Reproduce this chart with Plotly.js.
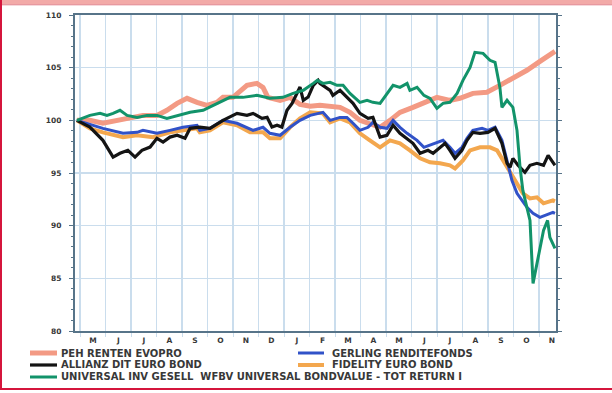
<!DOCTYPE html>
<html><head><meta charset="utf-8">
<script src="https://cdn.plot.ly/plotly-3.0.1.min.js"></script>
<style>html,body{margin:0;padding:0;background:#fff;} #chart{width:612px;height:393px;}</style>
</head><body><div id="chart"></div>
<script>
// Month tick labels (May .. Nov of the following year)
const monthLabels = ['M','J','J','A','S','O','N','D','J','F','M','A','M','J','J','A','S','O','N'];
const yTicks = [80, 85, 90, 95, 100, 105, 110];

const seriesNames = [
  'PEH RENTEN EVOPRO',
  'GERLING RENDITEFONDS',
  'ALLIANZ DIT EURO BOND',
  'FIDELITY EURO BOND',
  'UNIVERSAL INV GESELL  WFBV UNIVERSAL BONDVALUE - TOT RETURN I'
];

// x = months since start of May (first year)
const pehX = [-0.13,0.38,0.89,1.44,1.95,2.46,3.01,3.40,3.80,4.19,4.58,4.97,5.36,5.60,5.99,6.54,6.93,7.17,7.36,7.84,8.23,8.62,9.02,9.40,10.19,10.58,10.97,11.48,11.76,12.15,12.54,13.05,13.64,13.99,14.50,14.89,15.40,15.95,16.46,16.97,17.52,18.03,18.62];
const pehY = [100,100,99.72,100,100.19,100.47,100.47,100.95,101.61,102.09,101.71,101.42,101.71,102.18,102.18,103.32,103.51,103.13,102.18,101.90,102.18,101.52,101.33,101.42,101.23,100.76,100,99.53,99.34,100,100.76,101.23,101.80,102.18,101.90,102.09,102.56,102.66,103.32,103.99,104.75,105.60,106.55];

const gerX = [-0.13,0.38,0.89,1.68,2.23,2.46,3.01,3.52,4.03,4.58,4.69,5.09,5.60,6.15,6.54,6.78,7.17,7.44,7.84,8.23,8.62,9.02,9.52,9.80,10.19,10.46,10.70,10.97,11.29,11.48,11.76,12.03,12.27,12.54,12.82,13.21,13.48,13.72,13.99,14.23,14.50,14.70,14.97,15.17,15.40,15.76,15.99,16.27,16.54,16.74,16.93,17.13,17.52,17.76,18.03,18.54,18.62];
const gerY = [100,99.6,99.24,98.77,98.86,99.05,98.77,99.05,99.34,99.53,99.05,99.24,100,99.72,99.34,99.05,99.34,98.77,98.58,99.34,100,100.47,100.76,100,100.28,100.28,99.72,99.05,99.34,99.81,99.34,99.24,100,99.34,98.77,98.10,97.44,97.63,97.91,98.10,97.44,96.87,97.44,98.29,99.05,99.24,99.05,99.34,98.10,96.20,94.30,93.07,91.74,91.17,90.79,91.26,91.17];

const allX = [-0.13,0.38,0.89,1.29,1.56,1.87,2.15,2.42,2.74,3.01,3.25,3.52,3.80,4.11,4.31,4.69,5.09,5.60,6.15,6.54,6.78,7.13,7.33,7.52,7.72,7.91,8.11,8.31,8.62,8.75,8.94,9.14,9.33,9.40,9.80,9.91,10.19,10.46,10.70,10.97,11.29,11.48,11.76,12.03,12.27,12.54,12.82,13.05,13.33,13.64,13.84,14.11,14.31,14.50,14.70,14.97,15.17,15.40,15.68,15.99,16.27,16.54,16.74,16.86,16.97,17.17,17.44,17.64,17.91,18.17,18.35,18.54,18.62];
const allY = [100,99.36,98.10,96.51,96.87,97.15,96.51,97.15,97.46,98.29,97.94,98.41,98.58,98.29,99.24,99.36,99.24,100,100.66,100.47,100.66,100.19,100.28,99.36,99.53,99.36,100.95,101.61,103.16,101.90,102.21,103.32,103.80,103.51,102.85,102.37,102.85,102.21,101.61,100.66,100.19,100.28,98.41,98.58,99.53,98.77,98.29,97.82,96.87,97.15,96.87,97.44,97.82,97.15,96.39,97.15,98.10,98.86,98.77,98.86,99.24,97.82,95.92,95.54,96.39,95.73,95.06,95.73,95.92,95.73,96.68,96.01,95.73];

const fidX = [-0.13,0.38,0.89,1.68,2.23,2.85,3.52,4.03,4.58,4.69,5.09,5.60,6.15,6.66,7.17,7.44,7.84,8.23,8.62,9.02,9.52,9.80,10.19,10.58,10.97,11.36,11.76,12.15,12.54,12.93,13.33,13.72,14.11,14.50,14.70,15.01,15.29,15.68,16.07,16.35,16.54,16.74,16.97,17.17,17.36,17.64,17.91,18.17,18.54,18.62];
const fidY = [100,99.24,98.86,98.39,98.58,98.39,98.86,99.05,99.24,98.86,99.05,99.81,99.53,98.86,98.86,98.29,98.29,99.34,100.19,100.76,100.66,99.81,100.19,99.81,98.77,98.10,97.44,98.10,97.82,97.15,96.39,96.01,95.92,95.73,95.44,96.20,97.15,97.44,97.44,97.15,96.39,95.44,94.49,93.83,93.07,92.59,92.69,92.12,92.40,92.31];

const uniX = [-0.13,0.38,0.78,1.05,1.29,1.56,1.84,2.23,2.62,3.01,3.40,3.80,4.31,4.82,5.36,5.87,6.38,6.93,7.44,7.95,8.35,8.75,9.14,9.30,9.52,9.80,10.07,10.31,10.58,10.97,11.25,11.48,11.76,12.03,12.27,12.54,12.82,12.93,13.21,13.48,13.72,13.99,14.23,14.50,14.78,15.01,15.29,15.48,15.80,16.07,16.27,16.46,16.54,16.74,16.97,17.13,17.25,17.36,17.64,17.76,17.95,18.17,18.33,18.42,18.62];
const uniY = [100,100.47,100.66,100.47,100.66,100.95,100.47,100.28,100.47,100.47,100.19,100.47,100.76,100.95,101.61,102.18,102.18,102.37,102.09,102.18,102.56,102.85,103.51,103.80,103.51,103.61,103.32,103.32,102.56,101.71,101.90,101.71,101.61,102.56,103.32,103.13,103.51,102.85,103.13,102.37,102.09,101.14,101.61,101.71,102.56,103.80,105.03,106.46,106.36,105.70,105.51,103.13,101.23,101.90,101.23,99.05,95.54,93.35,90.50,84.52,86.99,89.55,90.50,88.89,87.84];

const colors = ['#f39a84', '#3152c8', '#141414', '#f3a74e', '#12936a'];
const widths = [5, 3, 3.2, 4, 3];
const xs = [pehX, gerX, allX, fidX, uniX];
const ys = [pehY, gerY, allY, fidY, uniY];
const drawOrder = [0, 3, 1, 2, 4];

const traces = drawOrder.map(i => ({
  type: 'scatter', mode: 'lines', x: xs[i], y: ys[i], name: seriesNames[i],
  line: {color: colors[i], width: widths[i]}, showlegend: false, hoverinfo: 'skip'
}));

// page geometry helpers (pixels -> paper fractions)
const M = {l: 75, r: 56, t: 15, b: 62};
const W = 612, H = 393;
const pw = W - M.l - M.r, ph = H - M.t - M.b;
const px = v => (v - M.l) / pw;
const py = v => (H - M.b - v) / ph;

const tickFont = {family: 'DejaVu Sans, Liberation Sans, sans-serif', size: 7.5, color: '#383838', weight: 'bold'};
const legFont = {family: 'DejaVu Sans, Liberation Sans, sans-serif', size: 10, color: '#383838', weight: 'bold'};

const legendSlots = [
  {sx0: 30, sx1: 57, tx: 59, y: 353},
  {sx0: 298, sx1: 324, tx: 330, y: 353},
  {sx0: 30, sx1: 57, tx: 59, y: 365},
  {sx0: 298, sx1: 324, tx: 330, y: 365},
  {sx0: 30, sx1: 57, tx: 59, y: 377}
];

const shapes = [
  {type: 'rect', xref: 'paper', yref: 'paper', x0: px(0), x1: px(W), y0: py(0), y1: py(4.5), fillcolor: '#f2aaa8', line: {width: 0}, layer: 'below'},
  {type: 'line', xref: 'paper', yref: 'paper', x0: px(0), x1: px(W), y0: py(4.8), y1: py(4.8), line: {color: '#e0808a', width: 1}},
  {type: 'line', xref: 'paper', yref: 'paper', x0: px(1), x1: px(1), y0: py(0), y1: py(389), line: {color: '#d5153c', width: 2}},
  {type: 'line', xref: 'paper', yref: 'paper', x0: px(0), x1: px(W), y0: py(389), y1: py(389), line: {color: '#d5153c', width: 2}}
];
const annotations = [];
legendSlots.forEach((s, i) => {
  shapes.push({type: 'line', xref: 'paper', yref: 'paper', x0: px(s.sx0), x1: px(s.sx1), y0: py(s.y), y1: py(s.y),
    line: {color: colors[i], width: widths[i]}});
  annotations.push({xref: 'paper', yref: 'paper', x: px(s.tx), y: py(s.y), xanchor: 'left', yanchor: 'middle',
    text: seriesNames[i], showarrow: false, font: legFont});
});

const gridCol = '#cadded';
const axisCol = '#577489';

const layout = {
  width: W, height: H,
  margin: M,
  paper_bgcolor: '#ffffff', plot_bgcolor: '#ffffff',
  showlegend: false,
  xaxis: {
    range: [-0.204, 18.66], tickmode: 'array',
    tickvals: monthLabels.map((_, k) => k + 0.5), ticktext: monthLabels,
    ticks: '', showgrid: false, zeroline: false,
    showline: true, linecolor: axisCol, linewidth: 2, mirror: true,
    tickfont: tickFont, ticklabelstandoff: 1,
    minor: {tickmode: 'linear', tick0: 0, dtick: 1, ticks: 'outside', ticklen: 4, tickcolor: gridCol, showgrid: true, gridcolor: gridCol, gridwidth: 1.5}
  },
  yaxis: {
    range: [80, 110], tickmode: 'array', tickvals: yTicks,
    ticks: 'outside', ticklen: 4, tickcolor: axisCol, tickwidth: 1,
    showgrid: true, gridcolor: gridCol, gridwidth: 1.5, zeroline: false,
    showline: true, linecolor: axisCol, linewidth: 2, mirror: 'ticks',
    tickfont: tickFont, ticklabelstandoff: 6,
    minor: {tickmode: 'linear', tick0: 80, dtick: 1, ticks: 'outside', ticklen: 2, tickcolor: axisCol}
  },
  yaxis2: {
    range: [80, 110], tickmode: 'array', tickvals: yTicks, overlaying: 'y', side: 'right',
    showgrid: false, zeroline: false, showline: false, ticks: '',
    tickfont: tickFont, ticklabelstandoff: 10
  },
  shapes: shapes,
  annotations: annotations
};

Plotly.newPlot('chart', traces, layout, {staticPlot: true, displayModeBar: false});
</script>
</body></html>
